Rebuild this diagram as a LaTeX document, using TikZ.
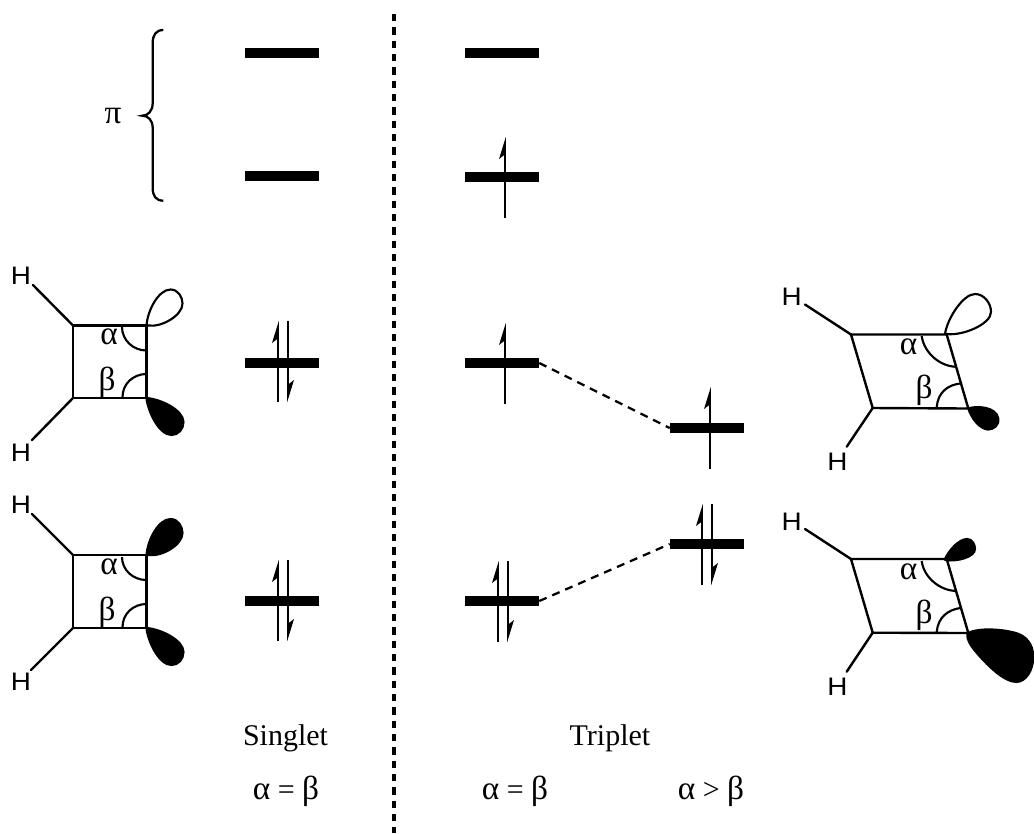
\documentclass[tikz,border=0pt]{standalone}
\usepackage{graphicx}
\usepackage{fontspec}
\setmainfont{Liberation Serif}
\newfontfamily\hfont{Liberation Sans}
\newcommand{\gk}[1]{{\fontsize{25}{26}\selectfont #1}}
\newcommand{\spinup}[3]{% x, top, bottom
  \draw[spin] (#1,#3) -- (#1,#2+6);
  \fill (#1+0.8,#2) -- (#1-6,#2+22) -- (#1-0.8,#2+18) -- (#1+0.8,#2+18) -- cycle;}
\newcommand{\spindown}[3]{% x, top, bottom
  \draw[spin] (#1,#2) -- (#1,#3-6);
  \fill (#1-0.8,#3) -- (#1+6,#3-22) -- (#1+0.8,#3-18) -- (#1-0.8,#3-18) -- cycle;}
\tikzset{
  level/.style={fill=black,rectangle,inner sep=0pt,minimum width=55.5pt,minimum height=7.5pt},
  bond/.style={line width=1.8pt,line cap=round,line join=miter},
  angarc/.style={line width=1.6pt},
  spin/.style={line width=1.5pt},
  conn/.style={line width=1.7pt,dash pattern=on 6pt off 4.6pt},
  hatom/.style={font=\hfont\fontsize{19}{21}\selectfont,inner sep=0pt},
  ang/.style={font=\fontsize{25}{26}\selectfont,inner sep=0pt},
  lab/.style={font=\fontsize{22.5}{24}\selectfont,inner sep=0pt},
  lobe/.style={line width=1.6pt,line join=round}
}
\begin{document}
\begin{tikzpicture}[x=0.75pt,y=-0.75pt]
\useasboundingbox (0,0) rectangle (1034,833);
% divider
\coordinate (divtop) at (394,14);
\coordinate (divbot) at (394,833);
\draw[line width=2.6pt,dash pattern=on 5.4pt off 4.6pt] (divtop) -- (divbot);
% brace
\draw[line width=1.7pt] (163.3,30) .. controls (156,30) and (152.7,35) .. (152.7,43)
  -- (152.7,103) .. controls (152.7,111) and (148,115.7) .. (142.3,115.7)
  .. controls (148,115.7) and (152.7,120) .. (152.7,128)
  -- (152.7,188) .. controls (152.7,196) and (156,200.7) .. (163.3,200.7);
\node[ang] (pi) at (113,116) {π};
% levels
\node[level] (s1) at (282,53) {};
\node[level] (s2) at (282,176) {};
\node[level] (s3) at (282,363) {};
\node[level] (s4) at (282,601) {};
\node[level] (t1) at (502,53) {};
\node[level] (t2) at (502,177) {};
\node[level] (t3) at (502,363) {};
\node[level] (t4) at (502,601) {};
\node[level] (r1) at (707,428) {};
\node[level] (r2) at (707,544) {};
% connectors
\draw[conn] (t3.east) -- (r1.west);
\draw[conn] (t4.east) -- (r2.west);
% spins
\spinup{278}{321}{402}\spindown{288}{321}{402}
\spinup{278}{560}{641}\spindown{288}{560}{641}
\spinup{505}{137}{218}
\spinup{505}{323}{404}
\spinup{498}{561}{642}\spindown{508}{561}{642}
\spinup{710}{387}{469}
\spinup{702}{504}{585}\spindown{712}{504}{585}
% molecule 1
\coordinate (a1) at (73,325.5);\coordinate (b1) at (146.5,325.5);
\coordinate (c1) at (146.5,398);\coordinate (d1) at (73,398);
\coordinate (ha1) at (33,285);\coordinate (hb1) at (32,440);
\draw[lobe,fill=white,shift={(b1)}] (0,0) .. controls (1,-15) and (12,-36) .. (24,-36)
  .. controls (32,-36) and (36,-28) .. (36,-22) .. controls (36,-10) and (15,2) .. (2,0) -- cycle;
\draw[lobe,fill=black,shift={(c1)}] (0,0) .. controls (14,1) and (37,12) .. (37,24)
  .. controls (37,31) and (32,37) .. (25,37) .. controls (12,37) and (1,12) .. (0,0) -- cycle;
\draw[bond] (a1) -- (b1) -- (c1) -- (d1) -- cycle;
\draw[bond] (a1) -- (ha1);
\draw[bond] (d1) -- (hb1);
\draw[angarc] (122,327) .. controls (122,340) and (133,350.5) .. (146.5,350.5);
\draw[angarc] (122.5,397) .. controls (122.5,384) and (133,374) .. (146.5,374);
\node[hatom] (h1a) at (21,276) {\scalebox{1.1}[1]{H}};
\node[hatom] (h1b) at (21,453) {\scalebox{1.1}[1]{H}};
\node[ang] (al1) at (109,337) {α};
\node[ang] (be1) at (107,382) {β};
% molecule 2
\coordinate (a2) at (73,555);\coordinate (b2) at (146.5,555);
\coordinate (c2) at (146.5,628);\coordinate (d2) at (73,628);
\coordinate (ha2) at (32,514);\coordinate (hb2) at (31,670);
\draw[lobe,fill=black,shift={(b2)}] (0,0) .. controls (1,-15) and (12,-36) .. (24,-36)
  .. controls (32,-36) and (36,-28) .. (36,-22) .. controls (36,-10) and (15,2) .. (2,0) -- cycle;
\draw[lobe,fill=black,shift={(c2)}] (0,0) .. controls (14,1) and (37,12) .. (37,24)
  .. controls (37,31) and (32,37) .. (25,37) .. controls (12,37) and (1,12) .. (0,0) -- cycle;
\draw[bond] (a2) -- (b2) -- (c2) -- (d2) -- cycle;
\draw[bond] (a2) -- (ha2);
\draw[bond] (d2) -- (hb2);
\draw[angarc] (122,557) .. controls (122,570) and (133,580) .. (146.5,580);
\draw[angarc] (122.5,627) .. controls (122.5,614) and (133,604) .. (146.5,604);
\node[hatom] (h2a) at (21,505) {\scalebox{1.1}[1]{H}};
\node[hatom] (h2b) at (21,682) {\scalebox{1.1}[1]{H}};
\node[ang] (al2) at (109,567) {α};
\node[ang] (be2) at (107,612) {β};
% molecule 3
\coordinate (a3) at (851,334.5);\coordinate (b3) at (946.7,334.5);
\coordinate (c3) at (968.3,408.5);\coordinate (d3) at (872.7,408);
\coordinate (ha3) at (805,304.5);\coordinate (hb3) at (846.7,446.7);
\draw[lobe,fill=white,shift={(945,334)}] (0,0) .. controls (2,-15) and (18,-40) .. (30,-40)
  .. controls (39,-40) and (46,-31) .. (46,-22) .. controls (46,-10) and (18,2) .. (2,0) -- cycle;
\draw[lobe,fill=black,shift={(c3)}] (0,0) .. controls (8,-3) and (28,-2) .. (30,10)
  .. controls (31,17) and (25,21) .. (20,21) .. controls (12,21) and (3,10) .. (0,0) -- cycle;
\draw[bond] (a3) -- (b3) -- (c3) -- (d3) -- cycle;
\draw[bond] (a3) -- (ha3);
\draw[bond] (d3) -- (hb3);
\draw[angarc] (921.7,336) .. controls (924,353) and (940,366) .. (955,366.7);
\draw[angarc] (936.7,407) .. controls (938,392) and (948,385) .. (960,383.5);
\node[hatom] (h3a) at (791.7,296.7) {\scalebox{1.1}[1]{H}};
\node[hatom] (h3b) at (837.3,461.7) {\scalebox{1.1}[1]{H}};
\node[ang] (al3) at (908.7,347) {α};
\node[ang] (be3) at (924,390.7) {β};
% molecule 4
\coordinate (a4) at (851,559);\coordinate (b4) at (946.7,559);
\coordinate (c4) at (968.3,633);\coordinate (d4) at (872.7,632.7);
\coordinate (ha4) at (805,529);\coordinate (hb4) at (846.7,671.7);
\draw[lobe,fill=black,shift={(945,559)}] (0,0) .. controls (4,-9) and (14,-20) .. (22,-20)
  .. controls (27,-20) and (30,-15) .. (30,-10) .. controls (30,-2) and (12,3) .. (0,1) -- cycle;
\fill[shift={(c4)}] (-2,0) .. controls (6,-6) and (30,-6) .. (48,-1)
  .. controls (58,2) and (66,10) .. (66,24) .. controls (66,38) and (58,50) .. (48,50)
  .. controls (36,50) and (20,35) .. (8,21) .. controls (3,15) and (-3,8) .. (-2,0) -- cycle;
\draw[bond] (a4) -- (b4) -- (c4) -- (d4) -- cycle;
\draw[bond] (a4) -- (ha4);
\draw[bond] (d4) -- (hb4);
\draw[angarc] (921.7,561) .. controls (924,578) and (940,590) .. (955,591);
\draw[angarc] (936.7,632) .. controls (938,617) and (948,610) .. (960,608);
\node[hatom] (h4a) at (791.7,521.7) {\scalebox{1.1}[1]{H}};
\node[hatom] (h4b) at (837.3,686.7) {\scalebox{1.1}[1]{H}};
\node[ang] (al4) at (908.7,572) {α};
\node[ang] (be4) at (924,615) {β};
% labels
\node[lab] (singlet) at (285.5,738) {Singlet};
\node[lab] (triplet) at (610,738) {Triplet};
\node[lab] (c1lab) at (286,791) {\gk{α} = \gk{β}};
\node[lab] (c2lab) at (515,791) {\gk{α} = \gk{β}};
\node[lab] (c3lab) at (711,791) {\gk{α} > \gk{β}};
\end{tikzpicture}
\end{document}
